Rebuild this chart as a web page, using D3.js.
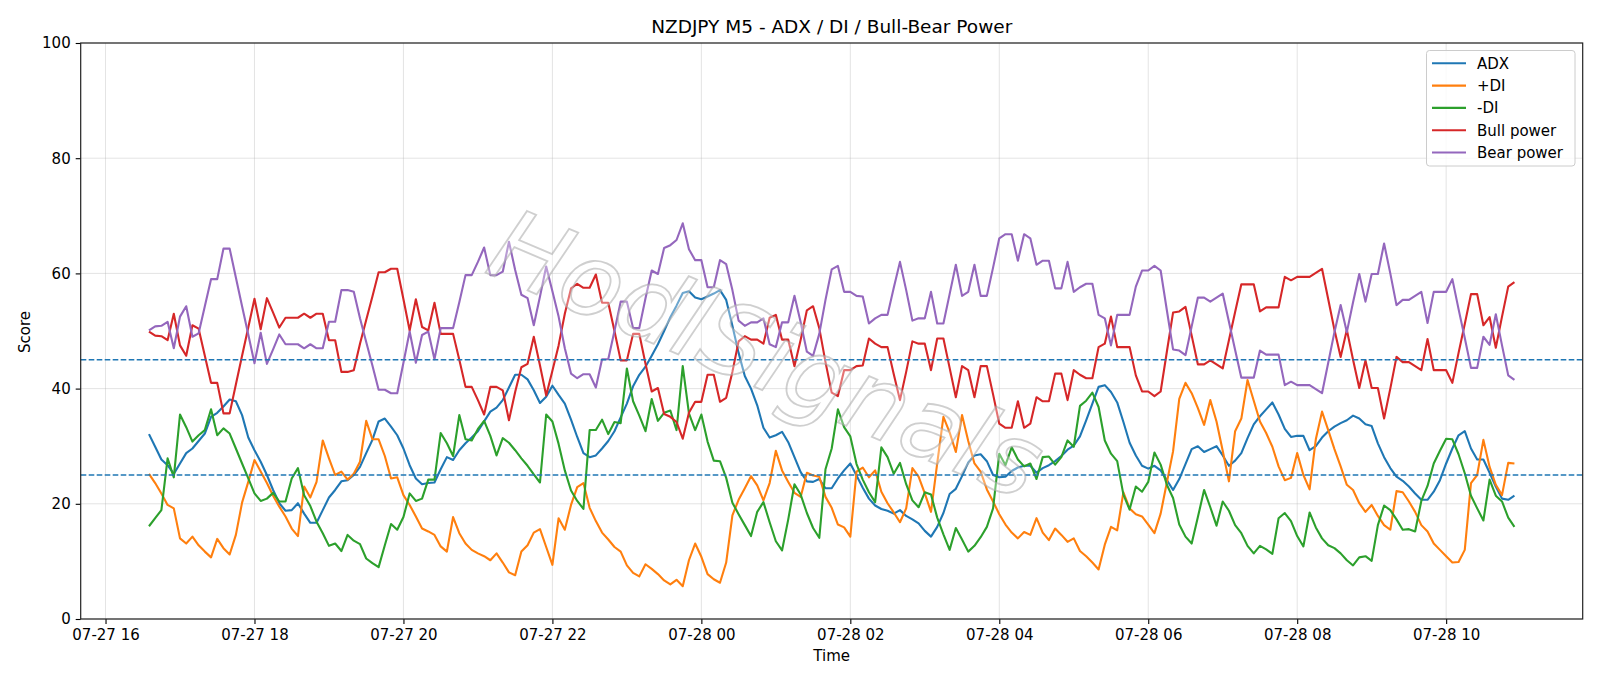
<!DOCTYPE html>
<html>
<head>
<meta charset="utf-8">
<script src="https://cdn.jsdelivr.net/npm/d3@7"></script>
<style>
  body { margin: 0; background: #fff; }
  svg { font-family: "DejaVu Sans", sans-serif; }
</style>
</head>
<body>
<div id="chart"></div>
<script>
// 5 minute bars, NZDJPY
var startTime = Date.UTC(2024, 6, 27, 16, 35);
var stepMs = 5 * 60 * 1000;

var adx = [32.1,29.9,27.7,26.7,25.2,27.0,28.8,29.6,30.9,32.2,35.1,35.8,36.9,38.1,37.8,35.4,31.5,29.3,27.3,25.0,
  22.4,20.1,18.8,18.9,20.1,18.3,16.7,16.7,18.9,21.1,22.4,23.9,24.1,25.0,26.4,28.8,31.1,34.3,34.8,33.4,
  31.9,29.6,26.7,24.4,23.4,23.6,23.7,26.0,28.1,27.6,29.3,30.5,31.5,32.6,34.3,36.0,36.7,38.0,40.2,42.4,
  42.4,41.6,39.7,37.5,38.6,40.5,38.9,37.4,34.6,31.6,28.8,28.1,28.4,29.6,30.9,32.6,35.0,37.4,40.4,42.4,
  43.8,45.7,47.7,50.0,52.4,54.4,56.6,56.9,55.8,55.5,56.0,56.5,57.1,55.4,50.9,46.2,42.2,40.0,37.1,33.2,
  31.5,31.9,32.5,30.7,28.1,25.5,23.9,23.8,24.3,22.7,22.7,24.4,25.8,27.0,24.9,22.8,20.9,19.7,19.1,18.8,
  18.3,18.9,17.9,17.3,16.6,15.3,14.3,16.0,18.4,21.7,22.6,24.8,27.2,28.4,28.6,27.4,25.0,24.6,24.7,25.7,
  26.3,26.6,26.6,25.4,26.2,26.7,27.4,28.3,29.4,30.1,31.7,34.5,37.4,40.3,40.6,39.4,37.6,34.2,30.6,28.4,
  26.6,26.1,26.6,25.8,24.1,22.4,24.3,26.9,29.5,30.0,29.0,29.5,30.0,28.4,26.6,27.5,28.8,31.4,33.8,35.2,
  36.4,37.6,35.5,33.0,31.6,31.8,31.8,29.3,30.0,31.5,32.6,33.4,34.0,34.5,35.3,34.8,33.8,33.5,30.5,28.1,
  26.2,24.7,24.0,23.0,21.8,20.7,20.7,22.1,24.1,27.0,29.6,31.9,32.6,29.6,27.7,27.7,25.4,23.0,20.9,20.7,
  21.4];

var plusDI = [25.2,23.6,21.8,19.8,19.2,14.0,13.1,14.3,12.8,11.7,10.7,13.9,12.3,11.2,14.6,20.2,23.8,27.6,25.6,23.6,
  21.4,19.5,17.8,15.7,14.4,23.0,21.1,23.8,31.0,27.9,25.0,25.6,24.2,25.2,27.3,34.4,31.2,31.2,28.3,24.4,
  24.6,21.5,19.8,17.8,15.7,15.2,14.6,12.6,11.7,17.7,14.9,13.1,12.0,11.4,10.9,10.2,11.4,9.8,8.1,7.6,
  11.7,12.8,15.0,15.6,12.5,9.4,17.5,15.5,19.8,22.9,23.6,19.3,17.0,15.0,13.8,12.5,11.7,9.3,8.0,7.4,
  9.5,8.7,7.8,6.7,6.0,6.8,5.7,10.2,13.1,10.8,7.8,6.9,6.3,9.8,18.0,20.7,22.7,24.8,23.2,20.6,
  23.6,29.2,25.8,23.8,21.9,21.2,25.4,24.9,24.7,21.2,19.3,16.4,15.9,14.3,25.6,26.3,24.6,25.8,22.1,20.1,
  18.5,16.8,19.2,26.2,24.7,21.8,18.6,27.0,35.1,32.4,29.0,35.4,30.9,27.0,25.6,22.5,20.4,18.2,16.4,15.0,
  14.0,15.1,14.6,17.5,15.0,13.7,15.7,14.6,13.4,14.0,11.8,10.9,9.8,8.6,12.9,16.0,15.4,22.0,19.2,18.2,
  17.8,16.4,14.9,18.3,23.7,29.1,38.2,41.0,39.2,36.6,33.7,38.0,34.3,29.2,23.9,32.6,34.8,41.5,37.9,34.3,
  32.3,29.9,26.5,24.1,24.5,28.8,25.0,22.5,31.2,36.0,32.8,29.5,26.5,23.3,22.4,20.1,18.6,19.8,17.9,16.3,
  15.5,22.2,22.0,20.4,18.6,16.3,15.2,13.1,12.0,10.9,9.8,9.9,12.0,23.6,25.0,31.1,26.4,23.3,21.5,27.1,
  27.0];

var minusDI = [16.1,17.5,18.9,27.9,24.6,35.5,33.3,30.8,31.9,32.8,36.4,31.9,33.1,32.2,29.6,27.0,24.4,21.8,20.5,20.9,
  21.9,20.4,20.4,24.4,26.2,21.5,19.6,16.9,14.9,12.7,13.1,11.8,14.6,13.6,13.0,10.5,9.7,9.0,12.8,16.5,
  15.5,17.7,21.8,20.5,20.9,24.2,24.2,32.3,30.5,28.3,35.4,31.2,31.0,33.0,34.4,31.8,28.4,31.4,30.6,29.3,
  27.9,26.6,25.1,23.7,35.5,34.3,30.4,25.8,22.3,20.5,19.1,32.8,32.8,34.6,32.1,34.2,34.0,43.5,37.8,35.3,
  32.6,38.2,34.4,35.8,36.2,32.8,43.9,35.7,32.8,35.5,30.8,27.5,27.4,24.5,20.2,18.2,16.3,14.4,18.6,20.3,
  16.8,13.5,11.9,17.3,23.4,21.6,18.4,15.8,14.1,26.0,29.6,36.4,33.3,31.7,26.9,24.2,22.0,20.3,29.8,28.1,
  25.2,27.1,23.4,20.6,19.4,22.0,21.6,17.6,14.7,12.0,15.8,13.8,11.7,12.7,14.2,16.0,19.2,28.7,26.7,29.8,
  27.7,26.5,27.0,24.3,28.1,28.2,26.8,28.1,31.0,29.9,37.0,37.9,39.3,36.8,31.0,28.7,27.4,21.6,19.0,23.0,
  22.1,23.8,28.9,26.8,23.3,21.0,16.4,14.3,13.1,17.7,22.4,19.4,16.2,20.4,18.8,16.3,14.9,12.7,11.4,12.7,
  12.1,11.3,17.5,18.4,17.0,14.4,12.6,18.5,15.9,14.0,12.8,12.3,11.4,10.2,9.3,10.7,10.9,10.1,16.3,19.7,
  18.9,17.3,15.5,15.6,15.2,20.5,23.1,27.0,29.2,31.3,31.2,28.6,25.3,21.4,19.2,17.1,24.2,21.4,20.4,17.6,
  16.0];

var bullPower = [49.9,49.2,49.1,48.4,53.0,47.5,45.7,51.0,50.4,45.7,41.0,41.0,35.7,35.7,40.7,45.7,50.6,55.6,50.3,55.7,
  53.2,50.6,52.3,52.3,52.3,53.0,52.3,53.0,53.0,48.4,48.4,42.9,42.9,43.2,47.8,51.9,56.0,60.2,60.2,60.8,
  60.8,55.5,50.1,55.5,50.7,50.1,54.9,49.5,49.5,49.5,45.0,40.3,40.3,38.0,35.5,40.3,40.3,39.7,34.5,39.4,
  43.7,44.3,49.0,44.0,38.8,43.1,47.5,53.0,57.4,58.2,57.5,57.5,59.8,54.9,54.9,50.0,44.9,44.9,49.5,49.5,
  44.3,39.5,40.1,35.6,35.1,34.2,31.3,35.8,37.7,37.7,42.4,42.4,37.7,38.4,42.9,48.2,49.1,48.5,48.5,47.8,
  52.3,52.8,48.5,48.5,43.9,48.5,53.6,54.3,50.5,44.6,39.3,38.7,43.2,43.2,43.9,44.0,48.7,47.8,47.2,47.2,
  42.5,38.0,42.9,48.2,47.8,47.8,43.2,48.7,48.7,43.6,38.5,43.9,43.2,38.5,43.9,43.9,39.0,33.9,33.2,33.2,
  37.8,33.2,33.9,38.5,37.8,37.8,42.6,42.6,38.0,43.2,42.4,41.8,41.8,47.2,47.8,52.5,47.2,47.2,47.2,42.3,
  39.5,39.5,38.7,39.5,46.4,53.2,53.4,54.2,49.2,44.2,44.2,44.9,44.2,43.5,48.4,53.3,58.1,58.1,58.1,53.4,
  54.1,54.1,54.1,59.4,58.8,59.4,59.4,59.4,60.1,60.8,55.5,50.2,45.5,50.2,45.0,40.1,44.9,40.1,40.1,34.8,
  40.0,45.5,44.6,44.6,43.9,43.2,48.6,43.2,43.2,43.2,41.0,46.2,51.2,56.4,56.4,51.0,52.4,47.1,52.5,57.7,
  58.5];

var bearPower = [50.1,50.8,50.9,51.6,47.0,52.5,54.3,49.0,49.6,54.3,59.0,59.0,64.3,64.3,59.3,54.3,49.4,44.4,49.7,44.3,
  46.8,49.4,47.7,47.7,47.7,47.0,47.7,47.0,47.0,51.6,51.6,57.1,57.1,56.8,52.2,48.1,44.0,39.8,39.8,39.2,
  39.2,44.5,49.9,44.5,49.3,49.9,45.1,50.5,50.5,50.5,55.0,59.7,59.7,62.0,64.5,59.7,59.7,60.3,65.5,60.6,
  56.3,55.7,51.0,56.0,61.2,56.9,52.5,47.0,42.6,41.8,42.5,42.5,40.2,45.1,45.1,50.0,55.1,55.1,50.5,50.5,
  55.7,60.5,59.9,64.4,64.9,65.8,68.7,64.2,62.3,62.3,57.6,57.6,62.3,61.6,57.1,51.8,50.9,51.5,51.5,52.2,
  47.7,47.2,51.5,51.5,56.1,51.5,46.4,45.7,49.5,55.4,60.7,61.3,56.8,56.8,56.1,56.0,51.3,52.2,52.8,52.8,
  57.5,62.0,57.1,51.8,52.2,52.2,56.8,51.3,51.3,56.4,61.5,56.1,56.8,61.5,56.1,56.1,61.0,66.1,66.8,66.8,
  62.2,66.8,66.1,61.5,62.2,62.2,57.4,57.4,62.0,56.8,57.6,58.2,58.2,52.8,52.2,47.5,52.8,52.8,52.8,57.7,
  60.5,60.5,61.3,60.5,53.6,46.8,46.6,45.8,50.8,55.8,55.8,55.1,55.8,56.5,51.6,46.7,41.9,41.9,41.9,46.6,
  45.9,45.9,45.9,40.6,41.2,40.6,40.6,40.6,39.9,39.2,44.5,49.8,54.5,49.8,55.0,59.9,55.1,59.9,59.9,65.2,
  60.0,54.5,55.4,55.4,56.1,56.8,51.4,56.8,56.8,56.8,59.0,53.8,48.8,43.6,43.6,49.0,47.6,52.9,47.5,42.3,
  41.5];

var seriesNames = ["ADX", "+DI", "-DI", "Bull power", "Bear power"];
var seriesColors = ["#1f77b4", "#ff7f0e", "#2ca02c", "#d62728", "#9467bd"];
var levels = [45, 25];
var yTicks = [0, 20, 40, 60, 80, 100];

var W = 1600, H = 686;
var margin = {left: 80.7, right: 17.3, top: 43, bottom: 67};
var pw = W - margin.left - margin.right;
var ph = H - margin.top - margin.bottom;

var times = adx.map(function (d, i) { return new Date(startTime + i * stepMs); });
var t0 = times[0], t1 = times[times.length - 1];
var pad = (t1 - t0) * 0.05;

var x = d3.scaleUtc().domain([new Date(+t0 - pad), new Date(+t1 + pad)]).range([0, pw]);
var y = d3.scaleLinear().domain([0, 100]).range([ph, 0]);

var svg = d3.select("#chart").append("svg")
    .attr("width", W).attr("height", H);
var g = svg.append("g").attr("transform", "translate(" + margin.left + "," + margin.top + ")");

var xTicks = x.ticks(d3.utcHour.every(2));

// grid
g.append("g").selectAll("line").data(xTicks).enter().append("line")
    .attr("x1", function (d) { return x(d); }).attr("x2", function (d) { return x(d); })
    .attr("y1", 0).attr("y2", ph)
    .attr("stroke", "#b0b0b0").attr("stroke-opacity", 0.35).attr("stroke-width", 1);
g.append("g").selectAll("line").data(yTicks).enter().append("line")
    .attr("y1", function (d) { return y(d); }).attr("y2", function (d) { return y(d); })
    .attr("x1", 0).attr("x2", pw)
    .attr("stroke", "#b0b0b0").attr("stroke-opacity", 0.35).attr("stroke-width", 1);

// series
var allSeries = [adx, plusDI, minusDI, bullPower, bearPower];
var line = d3.line()
    .x(function (d, i) { return x(times[i]); })
    .y(function (d) { return y(d); });

allSeries.forEach(function (vals, k) {
    g.append("path").datum(vals)
        .attr("fill", "none")
        .attr("stroke", seriesColors[k])
        .attr("stroke-width", 2.1)
        .attr("stroke-linejoin", "round")
        .attr("d", line);
});

// threshold lines
g.append("g").selectAll("line").data(levels).enter().append("line")
    .attr("x1", 0).attr("x2", pw)
    .attr("y1", function (d) { return y(d); }).attr("y2", function (d) { return y(d); })
    .attr("stroke", "#1f77b4").attr("stroke-width", 1.5)
    .attr("stroke-dasharray", "5.6,2.4");

// watermark
g.append("text")
    .attr("transform", "translate(683,318) rotate(23)")
    .attr("text-anchor", "middle")
    .attr("dominant-baseline", "middle")
    .attr("font-size", 100)
    .attr("font-style", "italic")
    .attr("font-family", "DejaVu Sans, sans-serif")
    .attr("fill", "#ffffff").attr("fill-opacity", 0.35)
    .attr("stroke", "#a8a8a8").attr("stroke-opacity", 0.55).attr("stroke-width", 1.8)
    .text("HodlSignals");

// axes
var xAxis = g.append("g").attr("transform", "translate(0," + ph + ")")
    .call(d3.axisBottom(x).tickValues(xTicks).tickFormat(d3.utcFormat("%m-%d %H")).tickSizeOuter(0).tickSize(5).tickPadding(5));
var yAxis = g.append("g")
    .call(d3.axisLeft(y).tickValues(yTicks).tickSizeOuter(0).tickSize(5).tickPadding(5));
[xAxis, yAxis].forEach(function (a) {
    a.select(".domain").remove();
    a.selectAll("text").attr("font-size", 15).attr("font-family", "DejaVu Sans, sans-serif").attr("fill", "#000");
    a.selectAll("line").attr("stroke", "#000").attr("stroke-width", 1.1);
});

// frame
g.append("rect").attr("x", 0).attr("y", 0).attr("width", pw).attr("height", ph)
    .attr("fill", "none").attr("stroke", "#222").attr("stroke-width", 1.2);

// labels
svg.append("text").attr("x", margin.left + pw / 2).attr("y", 33)
    .attr("text-anchor", "middle").attr("font-size", 18.5).text("NZDJPY M5 - ADX / DI / Bull-Bear Power");
svg.append("text").attr("x", margin.left + pw / 2).attr("y", 661)
    .attr("text-anchor", "middle").attr("font-size", 15).text("Time");
svg.append("text").attr("transform", "translate(30,332) rotate(-90)")
    .attr("text-anchor", "middle").attr("font-size", 15).text("Score");

// legend
var lg = svg.append("g");
lg.append("rect").attr("x", 1426.5).attr("y", 50.5).attr("width", 148.5).attr("height", 115.5)
    .attr("rx", 3).attr("fill", "#fff").attr("fill-opacity", 0.8)
    .attr("stroke", "#cccccc").attr("stroke-width", 1);
seriesNames.forEach(function (name, k) {
    var yy = 63.3 + k * 22.3;
    lg.append("line").attr("x1", 1432).attr("x2", 1466).attr("y1", yy).attr("y2", yy)
        .attr("stroke", seriesColors[k]).attr("stroke-width", 2.1);
    lg.append("text").attr("x", 1477).attr("y", yy).attr("dy", "0.36em")
        .attr("font-size", 15).text(name);
});
</script>
</body>
</html>
